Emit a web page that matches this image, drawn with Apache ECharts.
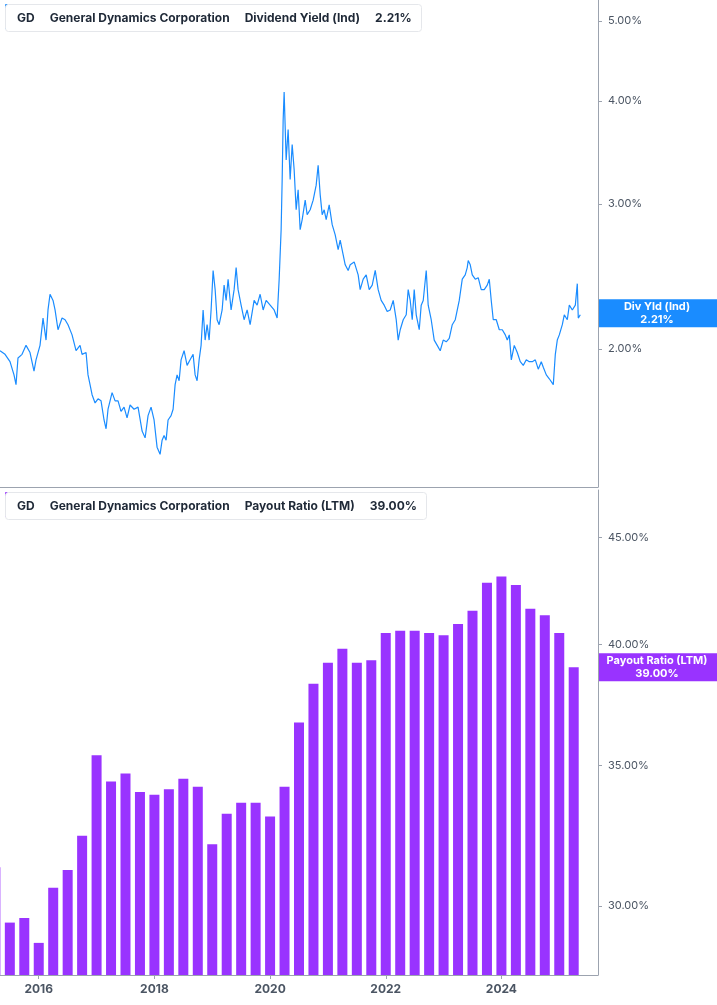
<!DOCTYPE html>
<html>
<head>
<meta charset="utf-8">
<script src="https://cdn.jsdelivr.net/npm/echarts@6/dist/echarts.min.js"></script>
<style>
  html, body { margin: 0; padding: 0; background: #fff; }
  #chart { width: 717px; height: 1005px; }
</style>
</head>
<body>
<div id="chart"></div>
<script>
// 股息率（日线，十进制年份）
const yieldTimes = [2015.330,2015.417,2015.503,2015.572,2015.607,2015.641,2015.711,2015.780,2015.849,2015.918,2015.953,2016.022,2016.074,2016.126,2016.160,2016.195,2016.247,2016.282,2016.333,2016.403,2016.455,2016.506,2016.576,2016.645,2016.714,2016.749,2016.818,2016.852,2016.887,2016.922,2016.974,2017.025,2017.077,2017.129,2017.164,2017.198,2017.233,2017.268,2017.320,2017.371,2017.423,2017.475,2017.527,2017.579,2017.648,2017.717,2017.787,2017.839,2017.890,2017.942,2017.994,2018.046,2018.098,2018.133,2018.167,2018.202,2018.236,2018.288,2018.323,2018.358,2018.392,2018.427,2018.461,2018.513,2018.565,2018.617,2018.669,2018.704,2018.738,2018.773,2018.807,2018.842,2018.877,2018.911,2018.946,2018.980,2019.015,2019.050,2019.084,2019.119,2019.171,2019.205,2019.240,2019.274,2019.326,2019.378,2019.413,2019.447,2019.499,2019.551,2019.603,2019.655,2019.724,2019.776,2019.828,2019.880,2019.932,2020.001,2020.070,2020.122,2020.157,2020.191,2020.209,2020.226,2020.243,2020.278,2020.312,2020.347,2020.382,2020.416,2020.451,2020.485,2020.520,2020.555,2020.607,2020.641,2020.693,2020.745,2020.797,2020.831,2020.866,2020.901,2020.935,2020.970,2021.022,2021.074,2021.126,2021.177,2021.212,2021.264,2021.299,2021.350,2021.385,2021.454,2021.523,2021.558,2021.610,2021.662,2021.714,2021.766,2021.818,2021.869,2021.921,2021.973,2022.025,2022.077,2022.129,2022.181,2022.215,2022.250,2022.302,2022.354,2022.388,2022.423,2022.458,2022.492,2022.527,2022.579,2022.613,2022.648,2022.700,2022.734,2022.786,2022.838,2022.890,2022.942,2022.994,2023.046,2023.098,2023.150,2023.202,2023.236,2023.271,2023.323,2023.374,2023.409,2023.426,2023.461,2023.496,2023.548,2023.599,2023.651,2023.703,2023.755,2023.790,2023.824,2023.859,2023.911,2023.963,2024.015,2024.067,2024.101,2024.136,2024.171,2024.222,2024.274,2024.326,2024.378,2024.430,2024.482,2024.534,2024.586,2024.637,2024.689,2024.724,2024.776,2024.828,2024.862,2024.897,2024.932,2024.966,2025.001,2025.053,2025.087,2025.139,2025.174,2025.226,2025.278,2025.312,2025.329,2025.364];
const yieldValues = [1.99,1.97,1.93,1.86,1.81,1.95,1.97,2.02,1.98,1.88,1.94,2.02,2.18,2.05,2.23,2.33,2.29,2.23,2.11,2.18,2.17,2.14,2.08,1.99,2.02,1.97,1.98,1.86,1.81,1.76,1.72,1.74,1.73,1.64,1.60,1.69,1.73,1.77,1.73,1.73,1.68,1.70,1.65,1.71,1.69,1.70,1.59,1.56,1.66,1.70,1.64,1.52,1.49,1.55,1.57,1.55,1.64,1.66,1.69,1.81,1.86,1.83,1.94,1.99,1.91,1.94,1.97,1.86,1.83,1.94,2.02,2.23,2.05,2.14,2.05,2.23,2.49,2.36,2.17,2.14,2.23,2.39,2.29,2.43,2.23,2.36,2.51,2.36,2.26,2.17,2.23,2.14,2.29,2.26,2.33,2.23,2.29,2.26,2.23,2.18,2.43,2.79,3.21,3.79,4.10,3.39,3.69,3.21,3.54,3.30,2.95,3.12,2.79,2.87,3.03,2.91,2.95,3.03,3.16,3.34,3.08,2.91,2.95,2.87,2.99,2.83,2.75,2.64,2.71,2.60,2.53,2.49,2.53,2.55,2.46,2.36,2.43,2.46,2.36,2.39,2.49,2.36,2.29,2.26,2.22,2.23,2.29,2.17,2.05,2.11,2.17,2.20,2.36,2.29,2.17,2.36,2.20,2.11,2.26,2.29,2.49,2.26,2.17,2.05,2.02,1.99,2.05,2.04,2.06,2.14,2.17,2.18,2.29,2.43,2.46,2.51,2.56,2.53,2.46,2.43,2.44,2.36,2.36,2.39,2.43,2.29,2.17,2.17,2.11,2.11,2.08,2.05,2.08,1.94,2.02,1.98,1.93,1.91,1.94,1.93,1.93,1.94,1.89,1.93,1.90,1.86,1.84,1.83,1.81,1.97,2.05,2.08,2.14,2.20,2.17,2.26,2.23,2.26,2.40,2.18,2.20];

// 派息率（季度）
const payoutTimes = [2015.25,2015.5,2015.75,2016.0,2016.25,2016.5,2016.75,2017.0,2017.25,2017.5,2017.75,2018.0,2018.25,2018.5,2018.75,2019.0,2019.25,2019.5,2019.75,2020.0,2020.25,2020.5,2020.75,2021.0,2021.25,2021.5,2021.75,2022.0,2022.25,2022.5,2022.75,2023.0,2023.25,2023.5,2023.75,2024.0,2024.25,2024.5,2024.75,2025.0,2025.25];
const payoutValues = [31.3,29.45,29.6,28.8,30.6,31.2,32.4,35.4,34.4,34.7,34.0,33.9,34.1,34.5,34.2,32.1,33.2,33.6,33.6,33.1,34.2,36.7,38.3,39.2,39.8,39.2,39.3,40.5,40.6,40.6,40.5,40.4,40.9,41.5,42.8,43.1,42.7,41.6,41.3,40.5,39.0];

const yearTicks = [2016, 2018, 2020, 2022, 2024];
const yieldTicks = [2, 3, 4, 5];
const payoutTicks = [30, 35, 40, 45];
const lastYield = 2.21, lastPayout = 39.0;

const BLUE = '#1a8cff', PURPLE = '#9933ff', AXIS = '#9ca3af', TXT = '#4b5563';
const chart = echarts.init(document.getElementById('chart'));

function yAxisOpt(idx, min, max, ticks) {
  return {
    type: 'log', gridIndex: idx, position: 'right', min: min, max: max,
    axisLine: { show: true, lineStyle: { color: AXIS } },
    axisTick: { show: true, customValues: ticks, length: 4, lineStyle: { color: AXIS } },
    axisLabel: { customValues: ticks, color: TXT, fontSize: 11, fontFamily: 'Inter', margin: 10,
      formatter: v => v.toFixed(2) + '%' },
    splitLine: { show: false }
  };
}
function xAxisOpt(idx, showLabel) {
  return {
    type: 'value', gridIndex: idx, min: 2015.33, max: 2025.67,
    axisLine: { show: true, onZero: false, lineStyle: { color: AXIS } },
    axisTick: { show: showLabel, customValues: yearTicks, length: 4, lineStyle: { color: AXIS } },
    axisLabel: { show: showLabel, customValues: yearTicks, color: TXT, fontSize: 12, fontWeight: 'bold', fontFamily: 'Inter', formatter: v => String(v) },
    splitLine: { show: false }
  };
}
function legendTitle(top, label, value, w) {
  return {
    left: 5, top: top, padding: [5, 10, 5, 12],
    backgroundColor: '#fff', borderColor: '#e5e7eb', borderWidth: 1, borderRadius: 3,
    text: '{b|GD}   {b|General Dynamics Corporation}   {n|' + label + '}   {b|' + value + '}',
    textStyle: { rich: {
      b: { fontFamily: 'Inter', fontSize: 12, fontWeight: 'bold', color: '#1f2937' },
      n: { fontFamily: 'Inter', fontSize: 12, color: '#1f2937' }
    } }
  };
}

chart.setOption({
  animation: false,
  title: [
    legendTitle(4, 'Dividend Yield (Ind)', lastYield.toFixed(2) + '%'),
    legendTitle(492, 'Payout Ratio (LTM)', lastPayout.toFixed(2) + '%')
  ],
  grid: [
    { left: 0, right: 119, top: 0, height: 487 },
    { left: 0, right: 119, top: 490, bottom: 30 }
  ],
  xAxis: [xAxisOpt(0, false), xAxisOpt(1, true)],
  yAxis: [yAxisOpt(0, 1.36, 5.30, yieldTicks), yAxisOpt(1, 27.8, 47.4, payoutTicks)],
  series: [
    { type: 'line', xAxisIndex: 0, yAxisIndex: 0, showSymbol: false,
      lineStyle: { color: BLUE, width: 1.2 },
      data: yieldTimes.map((t, i) => [t, yieldValues[i]]) },
    { type: 'bar', xAxisIndex: 1, yAxisIndex: 1, barWidth: 10,
      itemStyle: { color: PURPLE },
      data: payoutTimes.map((t, i) => [t, payoutValues[i]]) }
  ]
});

// 右侧当前值标签 + 图例色条
const yY = chart.convertToPixel({ yAxisIndex: 0 }, lastYield);
const yP = chart.convertToPixel({ yAxisIndex: 1 }, lastPayout);
function tag(y, text, color) {
  return { type: 'group', left: 598, top: y - 14, children: [
    { type: 'rect', shape: { x: 0, y: 0, width: 119, height: 28 }, style: { fill: color } },
    { type: 'text', x: 59, y: 14, style: { text: text, fill: '#fff', font: 'bold 11px Inter', align: 'center', verticalAlign: 'middle', lineHeight: 13 } }
  ] };
}
chart.setOption({ graphic: [
  { type: 'rect', left: 5, top: 4, shape: { width: 3, height: 25, r: 1 }, style: { fill: BLUE } },
  { type: 'rect', left: 5, top: 492, shape: { width: 3, height: 25, r: 1 }, style: { fill: PURPLE } },
  { type: 'line', shape: { x1: 0, y1: 487.5, x2: 598, y2: 487.5 }, style: { stroke: '#d1d5db' } },
  tag(yY, 'Div Yld (Ind)\n' + lastYield.toFixed(2) + '%', BLUE),
  tag(yP, 'Payout Ratio (LTM)\n' + lastPayout.toFixed(2) + '%', PURPLE)
] });
</script>
</body>
</html>
